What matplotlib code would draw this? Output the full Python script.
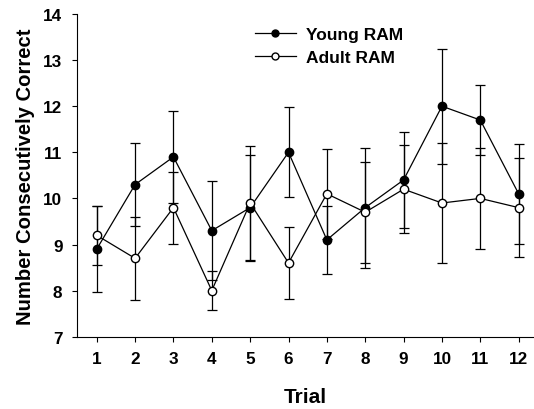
import matplotlib
matplotlib.use("Agg")
import matplotlib.pyplot as plt
from matplotlib.lines import Line2D

plt.rcParams['font.family'] = ['Liberation Sans', 'DejaVu Sans']
plt.rcParams['font.weight'] = 'bold'

trials = [1, 2, 3, 4, 5, 6, 7, 8, 9, 10, 11, 12]
young = [8.9, 10.3, 10.9, 9.3, 9.8, 11.0, 9.1, 9.8, 10.4, 12.0, 11.7, 10.1]
young_err = [0.93, 0.9, 1.0, 1.08, 1.15, 0.98, 0.74, 1.3, 1.05, 1.25, 0.75, 1.08]
adult = [9.2, 8.7, 9.8, 8.0, 9.9, 8.6, 10.1, 9.7, 10.2, 9.9, 10.0, 9.8]
adult_err = [0.64, 0.9, 0.78, 0.42, 1.24, 0.78, 0.98, 1.1, 0.96, 1.3, 1.1, 1.08]

fig = plt.figure(figsize=(5.34, 4.10), dpi=100)
ax = fig.add_axes([77/534, 1-337.7/410, 457/534, (337.7-15)/410])

ax.errorbar(trials, young, yerr=young_err, color='k', lw=0.9, elinewidth=0.9,
            capsize=3.7, capthick=0.9, marker='o', ms=6, mfc='k', mec='k', zorder=2)
ax.errorbar(trials, adult, yerr=adult_err, color='k', lw=0.9, elinewidth=0.9,
            capsize=3.7, capthick=0.9, marker='o', ms=6, mfc='white', mec='k', zorder=3)

ax.set_xlim(0.486, 12.4)
ax.set_ylim(7, 14)
ax.set_xticks(trials)
ax.set_yticks(range(7, 15))
ax.spines['top'].set_visible(False)
ax.spines['right'].set_visible(False)
ax.tick_params(direction='out', length=3.5, width=0.8, labelsize=12.3, pad=7)

ax.set_xlabel('Trial', fontsize=15, fontweight='bold', labelpad=15)
ax.set_ylabel('Number Consecutively Correct', fontsize=14.6, fontweight='bold', labelpad=6)

handles = [Line2D([], [], color='k', lw=0.9, marker='o', ms=5, mfc='k', mec='k'),
           Line2D([], [], color='k', lw=0.9, marker='o', ms=5, mfc='white', mec='k')]
leg = ax.legend(handles, ['Young RAM', 'Adult RAM'], loc='center left',
                bbox_to_anchor=(255/534, 1-47/410), bbox_transform=fig.transFigure,
                frameon=False, fontsize=12.5, handlelength=2.35, handletextpad=0.6,
                borderpad=0, borderaxespad=0, labelspacing=0.45)

fig.savefig('out.png', dpi=100)
